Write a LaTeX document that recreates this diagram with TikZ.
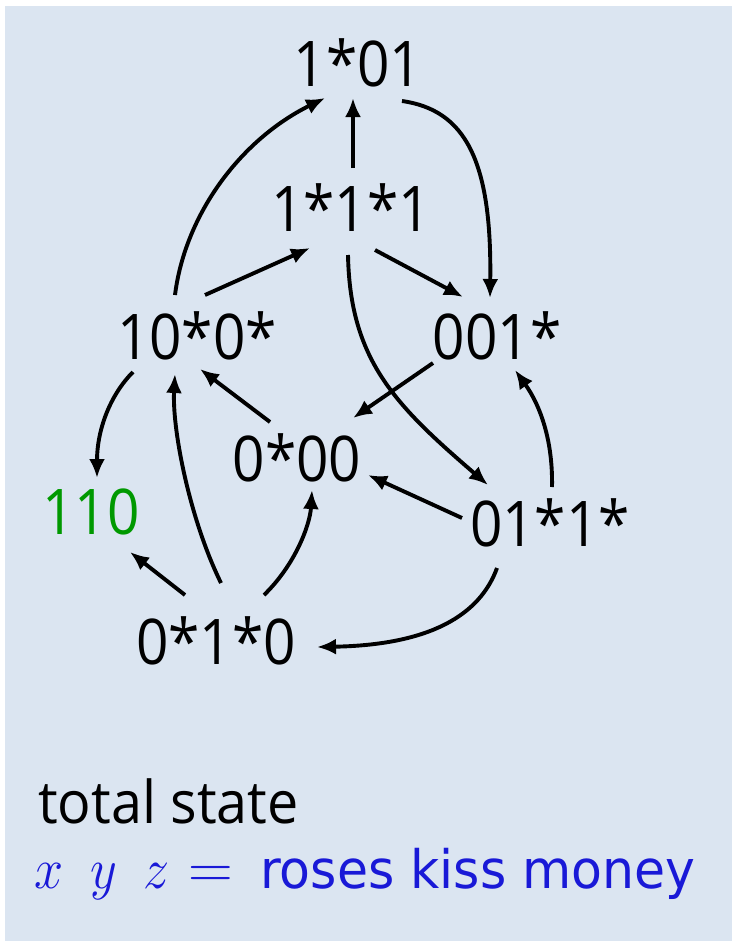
\documentclass[tikz,border=0pt]{standalone}
\usepackage{fix-cm}
\usepackage{fontspec}
\setmainfont{Open Sans}
\newfontfamily\dejavu{DejaVu Sans}
\usetikzlibrary{arrows.meta,calc}
\definecolor{bgc}{RGB}{219,229,241}
\definecolor{grn}{RGB}{0,153,0}
\definecolor{blu}{RGB}{25,25,215}
\newcommand\sq[1]{\scalebox{0.9}[1]{#1}}
\tikzset{
  st/.style={inner sep=0pt, font=\fontsize{63}{70}\selectfont},
  ar/.style={line width=3.9pt, -{Latex[length=19pt,width=16pt]}},
  lbl/.style={inner sep=0pt, anchor=base west},
  mth/.style={lbl, text=blu, font=\fontsize{58}{60}\selectfont},
}
\begin{document}
\begin{tikzpicture}[x=1pt,y=-1pt]
\useasboundingbox (0,0) rectangle (733,942);
\fill[white] (0,0) rectangle (733,942);
\fill[bgc] (5,6) rectangle (732,941);

\node[st] (A) at (358,63) {\sq{1*01}};
\node[st] (B) at (351,208) {\sq{1*1*1}};
\node[st] (C) at (197,336) {\sq{10*0*}};
\node[st] (D) at (497,336) {\sq{001*}};
\node[st] (E) at (297,458) {\sq{0*00}};
\node[st,text=grn] (F) at (91,512) {\sq{110}};
\node[st] (G) at (550,523) {\sq{01*1*}};
\node[st] (H) at (216,641) {\sq{0*1*0}};

\draw[ar] ($(B)+(2,-40)$) -- ($(A)+(-5,35)$);
\draw[ar] ($(C)+(-22,-41)$) .. controls (185,215) and (240,140) .. ($(A)+(-33,35)$);
\draw[ar] ($(A)+(44,38)$) .. controls (465,110) and (492,160) .. ($(D)+(-7,-38)$);
\draw[ar] ($(C)+(8,-41)$) -- ($(B)+(-41,40)$);
\draw[ar] ($(B)+(24,42)$) -- ($(D)+(-34,-39)$);
\draw[ar] ($(B)+(-3,47)$) .. controls (350,360) and (395,405) .. ($(G)+(-62,-38)$);
\draw[ar] ($(D)+(-64,27)$) -- ($(E)+(56,-40)$);
\draw[ar] ($(E)+(-27,-36)$) -- ($(C)+(3,33)$);
\draw[ar] ($(C)+(-64,36)$) .. controls (110,395) and (97,430) .. ($(F)+(6,-34)$);
\draw[ar] ($(H)+(-31,-46)$) -- ($(F)+(39,40)$);
\draw[ar] ($(H)+(5,-58)$) .. controls (190,520) and (172,430) .. ($(C)+(-22,38)$);
\draw[ar] ($(H)+(48,-46)$) .. controls (295,565) and (310,525) .. ($(E)+(15,32)$);
\draw[ar] ($(G)+(-88,-5)$) -- ($(E)+(71,17)$);
\draw[ar] ($(G)+(2,-36)$) .. controls (553,440) and (540,405) .. ($(D)+(18,34)$);
\draw[ar] ($(G)+(-53,45)$) .. controls (480,615) and (430,645) .. ($(H)+(101,6)$);

\node[lbl,font=\fontsize{59}{66}\selectfont] (T) at (38,823) {\scalebox{0.944}[1]{total state}};
\node[mth] (X) at (34,888) {\sq{$x$}};
\node[mth] (Y) at (90,888) {\sq{$y$}};
\node[mth] (Z) at (143,888) {\sq{$z$}};
\node[mth,font=\fontsize{62}{64}\selectfont] (Q) at (188,888) {$=$};
\node[lbl,text=blu,font=\dejavu\fontsize{53}{60}\selectfont] (R) at (260,888) {\scalebox{0.953}[1]{roses kiss money}};
\end{tikzpicture}
\end{document}
